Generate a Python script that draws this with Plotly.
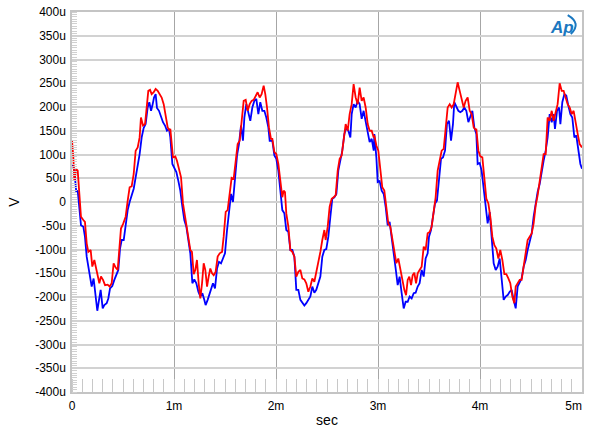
import plotly.graph_objects as go

# time in ms, voltage in microvolts
t_red = [0, 0.013, 0.023, 0.042, 0.056, 0.072, 0.088, 0.111, 0.127, 0.144, 0.160, 0.183, 0.199, 0.219, 0.242, 0.268, 0.284, 0.304, 0.324, 0.350, 0.369, 0.389, 0.408, 0.428, 0.448, 0.464, 0.480, 0.503, 0.526, 0.546, 0.565, 0.585, 0.605, 0.624, 0.644, 0.663, 0.676, 0.696, 0.716, 0.729, 0.748, 0.765, 0.781, 0.801, 0.820, 0.840, 0.859, 0.879, 0.899, 0.918, 0.938, 0.958,
         0.964, 0.990, 1.013, 1.029, 1.049, 1.069, 1.088, 1.108, 1.127, 1.144, 1.160, 1.176, 1.193, 1.209, 1.225, 1.242, 1.258, 1.275, 1.291, 1.307, 1.324, 1.340, 1.356, 1.373, 1.389, 1.408, 1.428, 1.448, 1.471, 1.487, 1.507, 1.526, 1.546, 1.565, 1.585, 1.605, 1.624, 1.644, 1.663, 1.683, 1.703, 1.722, 1.742, 1.761, 1.781, 1.801, 1.820, 1.840, 1.859, 1.879, 1.895, 1.912, 1.931, 1.951,
         1.964, 1.984, 2.003, 2.023, 2.042, 2.062, 2.075, 2.088, 2.101, 2.121, 2.141, 2.160, 2.180, 2.199, 2.219, 2.239, 2.258, 2.278, 2.297, 2.317, 2.337, 2.356, 2.376, 2.395, 2.415, 2.435, 2.454, 2.474, 2.487, 2.507, 2.526, 2.546, 2.565, 2.585, 2.605, 2.624, 2.644, 2.663, 2.683, 2.703, 2.722, 2.742, 2.761, 2.781, 2.801, 2.820, 2.840, 2.859, 2.879, 2.899, 2.918, 2.938, 2.958,
         2.964, 2.984, 3.003, 3.023, 3.042, 3.062, 3.082, 3.101, 3.121, 3.141, 3.160, 3.180, 3.199, 3.219, 3.239, 3.258, 3.275, 3.291, 3.307, 3.324, 3.340, 3.356, 3.373, 3.389, 3.408, 3.428, 3.448, 3.467, 3.487, 3.507, 3.526, 3.546, 3.565, 3.585, 3.605, 3.624, 3.644, 3.663, 3.683, 3.703, 3.722, 3.742, 3.761, 3.781, 3.801, 3.820, 3.840, 3.859, 3.879, 3.899, 3.918, 3.938, 3.958,
         3.964, 3.984, 4.003, 4.023, 4.042, 4.062, 4.082, 4.101, 4.121, 4.141, 4.160, 4.180, 4.199, 4.219, 4.239, 4.258, 4.278, 4.297, 4.317, 4.337, 4.350, 4.369, 4.389, 4.408, 4.428, 4.448, 4.467, 4.487, 4.507, 4.526, 4.546, 4.565, 4.585, 4.605, 4.624, 4.644, 4.663, 4.683, 4.703, 4.722, 4.742, 4.761, 4.781, 4.801, 4.820, 4.840, 4.859, 4.879, 4.899, 4.918, 4.938, 4.958, 4.977, 5.0]
v_red = [130, 94, 45, 69, 66, 17, -31, -38, -42, -87, -105, -101, -136, -122, -147, -171, -157, -164, -175, -174, -178, -171, -129, -138, -143, -101, -56, -45, -31, 3, 31, 33, 59, 108, 115, 136, 178, 161, 164, 192, 234, 236, 227, 231, 238, 234, 227, 220, 206, 185, 157, 150,
         154, 94, 96, 87, 66, 52, -3, -31, -52, -80, -101, -105, -152, -143, -122, -171, -203, -171, -129, -143, -178, -157, -140, -150, -154, -147, -115, -108, -105, -73, -21, -17, 17, 51, 49, 94, 122, 129, 164, 213, 215, 192, 206, 213, 215, 224, 231, 220, 227, 245, 227, 199, 157, 133,
         133, 105, 101, 80, 45, 10, 24, 21, -24, -52, -101, -105, -115, -157, -147, -143, -161, -163, -171, -189, -178, -161, -168, -150, -126, -105, -80, -59, -80, -52, -10, 7, 10, 14, 66, 91, 98, 129, 164, 150, 185, 206, 248, 220, 206, 241, 213, 220, 199, 164, 150, 150, 136,
         140, 119, 108, 73, 31, 24, -10, -45, -52, -80, -101, -129, -119, -143, -164, -185, -196, -164, -157, -175, -154, -149, -171, -150, -143, -136, -94, -101, -66, -63, -52, -17, 10, 66, 87, 108, 112, 150, 199, 206, 199, 206, 227, 252, 234, 213, 199, 213, 220, 192, 185, 157, 152,
         154, 108, 96, 94, 52, 7, -3, -31, -73, -91, -98, -119, -101, -122, -152, -152, -161, -171, -199, -213, -178, -171, -164, -164, -136, -115, -80, -73, -66, -45, -7, 14, 45, 80, 101, 101, 178, 171, 192, 171, 192, 206, 250, 234, 234, 220, 206, 199, 185, 192, 164, 143, 122, 115]

t_blue = [0, 0.016, 0.029, 0.042, 0.056, 0.072, 0.088, 0.111, 0.127, 0.144, 0.167, 0.193, 0.212, 0.232, 0.248, 0.265, 0.281, 0.301, 0.317, 0.340, 0.356, 0.373, 0.395, 0.415, 0.435, 0.454, 0.471, 0.487, 0.507, 0.526, 0.546, 0.565, 0.585, 0.605, 0.624, 0.644, 0.663, 0.683, 0.703, 0.722, 0.742, 0.758, 0.775, 0.788, 0.804, 0.820, 0.833, 0.853, 0.873, 0.892, 0.912, 0.931, 0.951,
          0.964, 0.984, 1.003, 1.023, 1.042, 1.062, 1.082, 1.101, 1.121, 1.141, 1.160, 1.180, 1.199, 1.219, 1.239, 1.258, 1.278, 1.297, 1.310, 1.330, 1.350, 1.369, 1.382, 1.402, 1.422, 1.441, 1.461, 1.480, 1.500, 1.520, 1.539, 1.559, 1.578, 1.598, 1.618, 1.637, 1.657, 1.676, 1.690, 1.709, 1.729, 1.748, 1.768, 1.788, 1.807, 1.827, 1.846, 1.866, 1.886, 1.905, 1.925, 1.938, 1.958,
          1.964, 1.984, 2.003, 2.023, 2.042, 2.062, 2.082, 2.101, 2.121, 2.141, 2.160, 2.180, 2.199, 2.219, 2.239, 2.258, 2.278, 2.297, 2.317, 2.337, 2.356, 2.376, 2.395, 2.415, 2.435, 2.454, 2.474, 2.493, 2.513, 2.533, 2.552, 2.572, 2.592, 2.611, 2.631, 2.650, 2.670, 2.690, 2.709, 2.729, 2.742, 2.761, 2.781, 2.801, 2.820, 2.840, 2.859, 2.879, 2.899, 2.918, 2.938, 2.958,
          2.964, 2.984, 2.997, 3.016, 3.036, 3.056, 3.075, 3.095, 3.114, 3.134, 3.154, 3.173, 3.193, 3.212, 3.232, 3.252, 3.271, 3.291, 3.310, 3.330, 3.350, 3.369, 3.389, 3.408, 3.428, 3.448, 3.467, 3.487, 3.500, 3.520, 3.539, 3.559, 3.578, 3.598, 3.618, 3.637, 3.657, 3.676, 3.696, 3.716, 3.735, 3.748, 3.768, 3.788, 3.807, 3.827, 3.846, 3.866, 3.886, 3.905, 3.925, 3.944,
          3.964, 3.977, 3.997, 4.016, 4.036, 4.056, 4.075, 4.095, 4.114, 4.134, 4.154, 4.173, 4.193, 4.212, 4.232, 4.252, 4.271, 4.291, 4.310, 4.330, 4.350, 4.369, 4.389, 4.408, 4.428, 4.448, 4.467, 4.487, 4.507, 4.526, 4.546, 4.565, 4.585, 4.605, 4.624, 4.644, 4.663, 4.683, 4.703, 4.722, 4.735, 4.755, 4.775, 4.788, 4.807, 4.827, 4.846, 4.866, 4.886, 4.905, 4.925, 4.944, 4.964, 4.984, 5.0]
v_blue = [78, 73, 52, 21, 24, -10, -49, -52, -73, -115, -143, -178, -161, -199, -229, -206, -185, -224, -217, -213, -203, -182, -177, -164, -152, -143, -98, -80, -80, -52, -17, 0, 17, 28, 52, 77, 101, 136, 156, 164, 199, 210, 192, 203, 220, 227, 198, 192, 178, 168, 161, 150, 154,
          136, 80, 70, 63, 45, 24, -10, -38, -52, -87, -108, -171, -163, -171, -189, -199, -192, -206, -217, -206, -192, -178, -171, -182, -140, -126, -129, -119, -108, -59, -24, 17, 0, 52, 98, 122, 161, 129, 178, 206, 189, 171, 199, 213, 217, 185, 210, 192, 192, 178, 157, 129, 129,
          129, 98, 91, 66, 31, -17, -24, -59, -63, -101, -101, -115, -185, -185, -206, -213, -218, -213, -206, -199, -178, -191, -185, -171, -157, -115, -101, -99, -73, -31, 7, 10, 17, 66, 87, 108, 143, 157, 150, 136, 185, 206, 199, 213, 206, 175, 192, 171, 150, 126, 133, 108,
          143, 94, 42, 44, 24, 17, -10, -49, -42, -73, -101, -140, -175, -157, -192, -224, -210, -210, -199, -203, -192, -191, -178, -171, -143, -157, -119, -108, -73, -59, -31, -3, 3, 52, 91, 94, 108, 164, 171, 129, 164, 210, 199, 192, 189, 192, 199, 192, 168, 178, 192, 157,
          143, 80, 82, 66, 31, 0, -45, -21, -73, -129, -143, -136, -119, -171, -206, -199, -196, -189, -185, -206, -224, -178, -168, -161, -136, -122, -101, -80, -66, -31, -3, 21, 38, 66, 87, 108, 136, 185, 168, 185, 154, 192, 199, 164, 210, 227, 224, 203, 185, 178, 136, 140, 108, 80, 70]

x_tickvals = [0, 1, 2, 3, 4, 5]
x_ticktext = ["0", "1m", "2m", "3m", "4m", "5m\u00a0\u00a0\u00a0\u00a0\u00a0"]
y_tickvals = [-400, -350, -300, -250, -200, -150, -100, -50, 0, 50, 100, 150, 200, 250, 300, 350, 400]
y_ticktext = ["-400u", "-350u", "-300u", "-250u", "-200u", "-150u", "-100u", "-50u", "0",
              "50u", "100u", "150u", "200u", "250u", "300u", "350u", "400u"]

fig = go.Figure()
fig.add_trace(go.Scatter(x=t_blue, y=v_blue, mode="lines",
                         line=dict(color="#0000ff", width=1.8), showlegend=False))
fig.add_trace(go.Scatter(x=t_red, y=v_red, mode="lines",
                         line=dict(color="#ff0000", width=1.8), showlegend=False))

fig.update_layout(
    width=600, height=439,
    margin=dict(l=72, r=18, t=12, b=47),
    paper_bgcolor="white", plot_bgcolor="white",
    font=dict(family="Liberation Sans, Arial, sans-serif", size=12, color="black"),
    xaxis=dict(range=[0, 5], tickvals=x_tickvals, ticktext=x_ticktext, automargin=False,
               showgrid=True, gridcolor="#a6a6a6", gridwidth=1,
               ticks="", zeroline=False,
               showline=True, linecolor="#c4c4c4", linewidth=1.5, mirror=True,
               minor=dict(dtick=0.1, ticks="inside", ticklen=13, tickcolor="#c8c8c8",
                          tickwidth=1, showgrid=False),
               title=dict(text="sec", standoff=3), ticklabelstandoff=2),
    yaxis=dict(range=[-400, 400], tickvals=y_tickvals, ticktext=y_ticktext, automargin=False,
               showgrid=True, gridcolor="#d2d2d2", gridwidth=1.5,
               ticks="", zeroline=False,
               showline=True, linecolor="#c4c4c4", linewidth=1.5, mirror=True,
               minor=dict(dtick=5, ticks="inside", ticklen=5, tickcolor="#d0d0d0",
                          tickwidth=1, showgrid=False),
               title=dict(text="V", standoff=12), ticklabelstandoff=2),
)

# Audio Precision style logo
fig.add_annotation(xref="paper", yref="paper", x=0.988, y=0.99, xanchor="right", yanchor="top",
                   text="<b><i>Ap</i></b>", showarrow=False,
                   font=dict(family="Liberation Sans, Arial", size=17, color="#1b78c0"))
fig.add_shape(type="path", xref="paper", yref="paper",
              path="M 0.972 0.992 Q 1.0 0.97 0.978 0.942",
              line=dict(color="#1b78c0", width=2))

fig.write_html("out.html")
